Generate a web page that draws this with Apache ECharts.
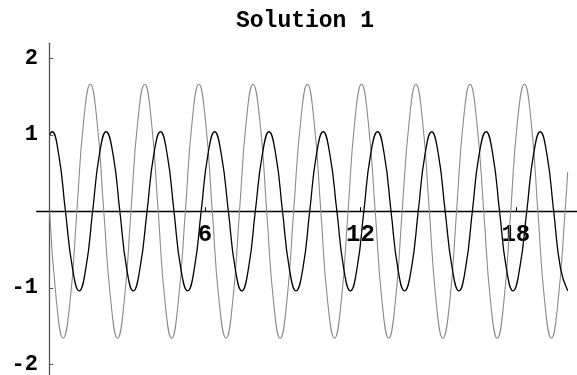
<!DOCTYPE html>
<html>
<head>
<meta charset="utf-8">
<script src="https://cdn.jsdelivr.net/npm/echarts@6/dist/echarts.min.js"></script>
<style>
  html, body { margin: 0; padding: 0; background: #ffffff; }
  #chart { width: 577px; height: 375px; }
</style>
</head>
<body>
<div id="chart"></div>
<script>
// Tick positions on both axes
const xTicks = [6, 12, 18];
const yTicks = [-2, -1, 1, 2];

// Gray curve: sample times and values
const tGray = [
  0, 0.26, 0.52, 0.79, 1.05, 1.31, 1.57, 1.83,
  2.09, 2.36, 2.62, 2.88, 3.14, 3.40, 3.67, 3.93,
  4.19, 4.45, 4.71, 4.97, 5.24, 5.50, 5.76, 6.02,
  6.28, 6.54, 6.81, 7.07, 7.33, 7.59, 7.85, 8.12,
  8.38, 8.64, 8.90, 9.16, 9.42, 9.69, 9.95, 10.21,
  10.47, 10.73, 11.00, 11.26, 11.52, 11.78, 12.04, 12.30,
  12.57, 12.83, 13.09, 13.35, 13.61, 13.88, 14.14, 14.40,
  14.66, 14.92, 15.18, 15.45, 15.71, 15.97, 16.23, 16.49,
  16.76, 17.02, 17.28, 17.54, 17.80, 18.06, 18.33, 18.59,
  18.85, 19.11, 19.37, 19.63, 19.90, 20.00
];
const yGray = [
  0, -1.17, -1.66, -1.17, 0, 1.17, 1.66, 1.17,
  0, -1.17, -1.66, -1.17, 0, 1.17, 1.66, 1.17,
  0, -1.17, -1.66, -1.17, 0, 1.17, 1.66, 1.17,
  0, -1.17, -1.66, -1.17, 0, 1.17, 1.66, 1.17,
  0, -1.17, -1.66, -1.17, 0, 1.17, 1.66, 1.17,
  0, -1.17, -1.66, -1.17, 0, 1.17, 1.66, 1.17,
  0, -1.17, -1.66, -1.17, 0, 1.17, 1.66, 1.17,
  0, -1.17, -1.66, -1.17, 0, 1.17, 1.66, 1.17,
  0, -1.17, -1.66, -1.17, 0, 1.17, 1.66, 1.17,
  0, -1.17, -1.66, -1.17, 0, 0.51
];

// Black curve: sample times and values
const tBlack = [
  0, 0.09, 0.35, 0.61, 0.88, 1.14, 1.40, 1.66, 1.92,
  2.18, 2.45, 2.71, 2.97, 3.23, 3.49, 3.76, 4.02,
  4.28, 4.54, 4.80, 5.06, 5.33, 5.59, 5.85, 6.11,
  6.37, 6.63, 6.90, 7.16, 7.42, 7.68, 7.94, 8.21,
  8.47, 8.73, 8.99, 9.25, 9.51, 9.78, 10.04, 10.30,
  10.56, 10.82, 11.09, 11.35, 11.61, 11.87, 12.13, 12.39,
  12.66, 12.92, 13.18, 13.44, 13.70, 13.97, 14.23, 14.49,
  14.75, 15.01, 15.27, 15.54, 15.80, 16.06, 16.32, 16.58,
  16.85, 17.11, 17.37, 17.63, 17.89, 18.15, 18.42, 18.68,
  18.94, 19.20, 19.46, 19.72, 20.00
];
const yBlack = [
  1.00, 1.04, 0.74, 0, -0.74, -1.04, -0.74, 0, 0.74,
  1.04, 0.74, 0, -0.74, -1.04, -0.74, 0, 0.74,
  1.04, 0.74, 0, -0.74, -1.04, -0.74, 0, 0.74,
  1.04, 0.74, 0, -0.74, -1.04, -0.74, 0, 0.74,
  1.04, 0.74, 0, -0.74, -1.04, -0.74, 0, 0.74,
  1.04, 0.74, 0, -0.74, -1.04, -0.74, 0, 0.74,
  1.04, 0.74, 0, -0.74, -1.04, -0.74, 0, 0.74,
  1.04, 0.74, 0, -0.74, -1.04, -0.74, 0, 0.74,
  1.04, 0.74, 0, -0.74, -1.04, -0.74, 0, 0.74,
  1.04, 0.74, 0, -0.74, -1.04
];

const zip = (xs, ys) => xs.map((x, i) => [x, ys[i]]);
const monoFont = '"Liberation Mono", "DejaVu Sans Mono", monospace';

const chart = echarts.init(document.getElementById('chart'), null, { renderer: 'canvas' });

chart.setOption({
  animation: false,
  backgroundColor: '#ffffff',
  title: {
    text: 'Solution 1',
    left: 236,
    top: 10,
    padding: 0,
    textStyle: { fontFamily: monoFont, fontWeight: 'bold', fontSize: 23, color: '#000' }
  },
  grid: { left: 36.7, right: 0, top: 43.3, bottom: 0, containLabel: false, outerBoundsMode: 'none' },
  xAxis: {
    type: 'value',
    min: -0.5,
    max: 20.36,
    splitLine: { show: false },
    axisLine: { onZero: true, lineStyle: { color: '#000', width: 1.3 } },
    axisTick: { inside: true, length: 4, customValues: xTicks, lineStyle: { color: '#000', width: 1 } },
    axisLabel: {
      customValues: xTicks,
      // labels sit just under the zero line, measured up from the grid bottom
      margin: -152.5,
      fontFamily: monoFont, fontWeight: 'bold', fontSize: 24, color: '#000'
    }
  },
  yAxis: {
    type: 'value',
    min: -2.14,
    max: 2.196,
    splitLine: { show: false },
    axisLine: { onZero: true, lineStyle: { color: '#555', width: 1.3 } },
    axisTick: { inside: true, length: 3.5, customValues: yTicks, lineStyle: { color: '#555', width: 1 } },
    axisLabel: {
      customValues: yTicks,
      margin: -1.3,
      fontFamily: monoFont, fontWeight: 'bold', fontSize: 22, color: '#000'
    }
  },
  series: [
    {
      type: 'line',
      data: zip(tGray, yGray),
      smooth: 0.5,
      showSymbol: false,
      lineStyle: { color: '#8a8a8a', width: 1.1 },
      z: 2
    },
    {
      type: 'line',
      data: zip(tBlack, yBlack),
      smooth: 0.5,
      showSymbol: false,
      lineStyle: { color: '#000', width: 1.3 },
      z: 3
    }
  ]
});
</script>
</body>
</html>
